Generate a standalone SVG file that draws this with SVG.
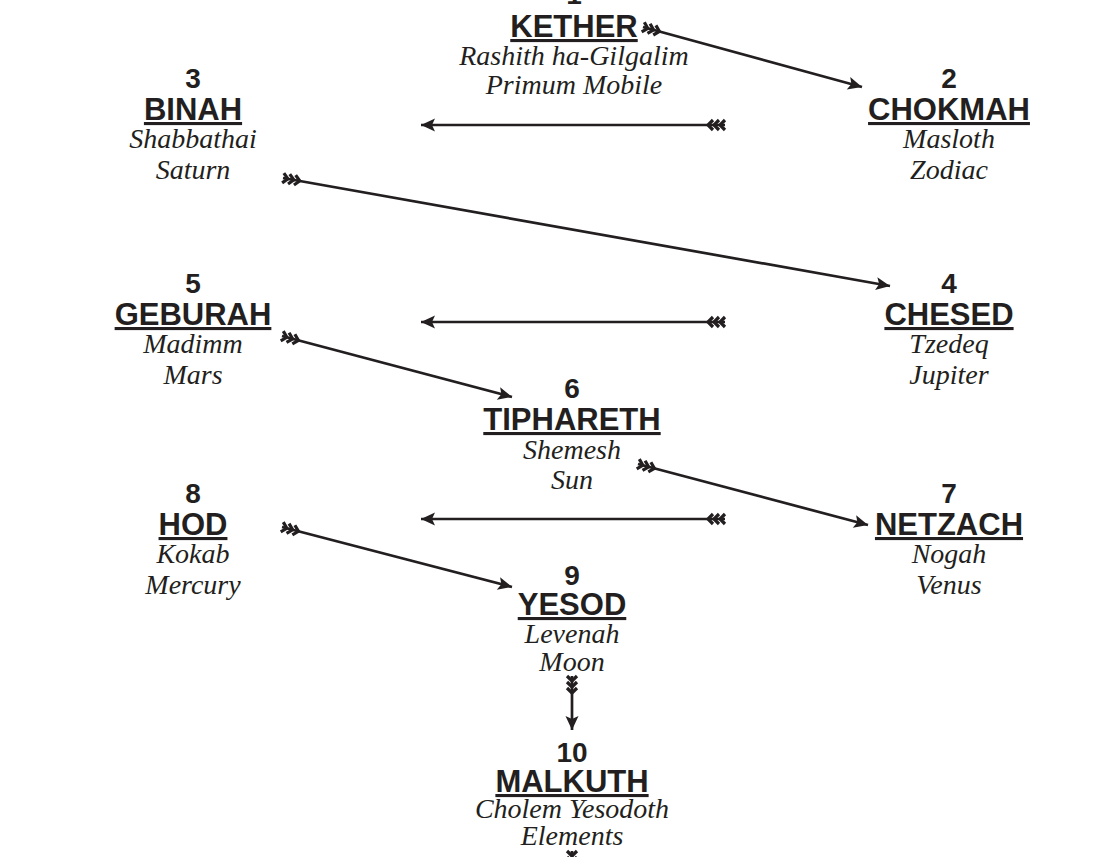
<svg xmlns="http://www.w3.org/2000/svg" width="1106" height="857" viewBox="0 0 1106 857">
<style>
text{fill:#231f20;text-anchor:middle}
.num{font-family:"Liberation Sans",Arial,sans-serif;font-weight:bold;font-size:28px}
.name{font-family:"Liberation Sans",Arial,sans-serif;font-weight:bold;font-size:31px;text-decoration:underline}
.it{font-family:"Liberation Serif","Times New Roman",serif;font-style:italic;font-size:28px}
.conn path{stroke:#231f20;stroke-width:2.7;fill:none;marker-start:url(#fletch);marker-end:url(#head)}
</style>
<defs>
<marker id="head" markerUnits="userSpaceOnUse" markerWidth="20" markerHeight="20" refX="14" refY="0" orient="auto" overflow="visible">
<path d="M0,-6.5 L14,0 L0,6.5 L3,0 z" fill="#231f20"/>
</marker>
<marker id="fletch" markerUnits="userSpaceOnUse" markerWidth="24" markerHeight="14" refX="0" refY="0" orient="auto" overflow="visible">
<path d="M0,-5 L5,0 L0,5 M6,-5 L11,0 L6,5 M12,-5 L17,0 L12,5" fill="none" stroke="#231f20" stroke-width="3.2"/>
</marker>
</defs>
<rect width="1106" height="857" fill="#fff"/>
<g id="connectors" class="conn">
<path d="M643,27 L862,87"/>
<path d="M725,125 L421,125"/>
<path d="M283,178 L890,286"/>
<path d="M725,322 L421,322"/>
<path d="M282,336 L512,397"/>
<path d="M638,464 L868,525"/>
<path d="M725,519 L421,519"/>
<path d="M282,527 L512,587"/>
<path d="M572,676 L572,730"/>
<path d="M572,851 L572,880"/>
</g>
<g id="kether">
<text class="num" x="574" y="4">1</text>
<text class="name" x="574" y="37">KETHER</text>
<text class="it" x="574" y="65">Rashith ha-Gilgalim</text>
<text class="it" x="574" y="94">Primum Mobile</text>
</g>
<g id="binah">
<text class="num" x="193" y="88">3</text>
<text class="name" x="193" y="120">BINAH</text>
<text class="it" x="193" y="148">Shabbathai</text>
<text class="it" x="193" y="179">Saturn</text>
</g>
<g id="chokmah">
<text class="num" x="949" y="88">2</text>
<text class="name" x="949" y="120">CHOKMAH</text>
<text class="it" x="949" y="148">Masloth</text>
<text class="it" x="949" y="179">Zodiac</text>
</g>
<g id="geburah">
<text class="num" x="193" y="293">5</text>
<text class="name" x="193" y="325">GEBURAH</text>
<text class="it" x="193" y="353">Madimm</text>
<text class="it" x="193" y="384">Mars</text>
</g>
<g id="chesed">
<text class="num" x="949" y="293">4</text>
<text class="name" x="949" y="325">CHESED</text>
<text class="it" x="949" y="353">Tzedeq</text>
<text class="it" x="949" y="384">Jupiter</text>
</g>
<g id="tiphareth">
<text class="num" x="572" y="398">6</text>
<text class="name" x="572" y="430">TIPHARETH</text>
<text class="it" x="572" y="459">Shemesh</text>
<text class="it" x="572" y="489">Sun</text>
</g>
<g id="hod">
<text class="num" x="193" y="503">8</text>
<text class="name" x="193" y="535">HOD</text>
<text class="it" x="193" y="563">Kokab</text>
<text class="it" x="193" y="594">Mercury</text>
</g>
<g id="netzach">
<text class="num" x="949" y="503">7</text>
<text class="name" x="949" y="535">NETZACH</text>
<text class="it" x="949" y="563">Nogah</text>
<text class="it" x="949" y="594">Venus</text>
</g>
<g id="yesod">
<text class="num" x="572" y="585">9</text>
<text class="name" x="572" y="615">YESOD</text>
<text class="it" x="572" y="643">Levenah</text>
<text class="it" x="572" y="671">Moon</text>
</g>
<g id="malkuth">
<text class="num" x="572" y="762">10</text>
<text class="name" x="572" y="792">MALKUTH</text>
<text class="it" x="572" y="818">Cholem Yesodoth</text>
<text class="it" x="572" y="845">Elements</text>
</g>
</svg>
